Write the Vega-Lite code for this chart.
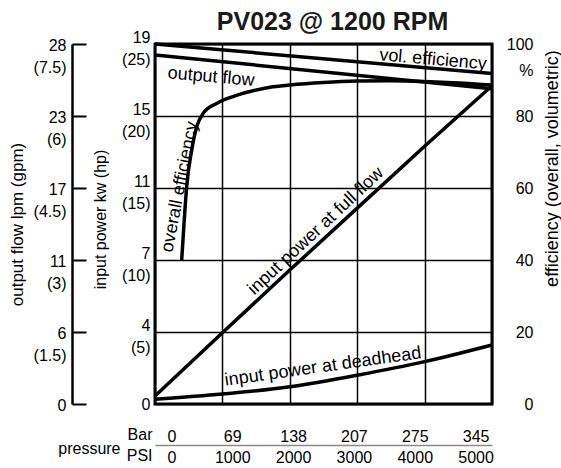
{
  "$schema": "https://vega.github.io/schema/vega-lite/v6.json",
  "width": 337,
  "height": 360,
  "autosize": {"type": "none"},
  "padding": {"left": 155, "top": 44, "right": 69, "bottom": 64},
  "background": "white",
  "title": {"text": "PV023  @  1200 RPM", "fontSize": 25, "fontWeight": "bold", "font": "Liberation Sans", "anchor": "middle", "dx": 9, "offset": -6, "color": "#1a1a1a"},
  "datasets": {
    "curves": [
      {"series": "vol", "psi": 0, "value": 100},
      {"series": "vol", "psi": 5000, "value": 91.8},
      {"series": "overall", "psi": 396, "value": 40.0},
      {"series": "overall", "psi": 430, "value": 50.0},
      {"series": "overall", "psi": 470, "value": 60.4},
      {"series": "overall", "psi": 545, "value": 70.6},
      {"series": "overall", "psi": 619, "value": 77.0},
      {"series": "overall", "psi": 717, "value": 80.8},
      {"series": "overall", "psi": 915, "value": 83.5},
      {"series": "overall", "psi": 1157, "value": 85.4},
      {"series": "overall", "psi": 1409, "value": 86.8},
      {"series": "overall", "psi": 1706, "value": 88.0},
      {"series": "overall", "psi": 2000, "value": 88.6},
      {"series": "overall", "psi": 2500, "value": 89.3},
      {"series": "overall", "psi": 3000, "value": 89.7},
      {"series": "overall", "psi": 3500, "value": 89.8},
      {"series": "overall", "psi": 4000, "value": 89.6},
      {"series": "overall", "psi": 4500, "value": 89.2},
      {"series": "overall", "psi": 5000, "value": 88.6},
      {"series": "flow", "psi": 0, "value": 7.27},
      {"series": "flow", "psi": 5000, "value": 6.57},
      {"series": "full", "psi": 0, "value": 0.55},
      {"series": "full", "psi": 1000, "value": 4.95},
      {"series": "full", "psi": 2000, "value": 9.3},
      {"series": "full", "psi": 3000, "value": 13.6},
      {"series": "full", "psi": 4000, "value": 17.9},
      {"series": "full", "psi": 5000, "value": 22.1},
      {"series": "deadhead", "psi": 0, "value": 0.33},
      {"series": "deadhead", "psi": 1000, "value": 0.69},
      {"series": "deadhead", "psi": 2000, "value": 1.2},
      {"series": "deadhead", "psi": 3000, "value": 2.0},
      {"series": "deadhead", "psi": 4000, "value": 2.94},
      {"series": "deadhead", "psi": 5000, "value": 4.1}
    ],
    "labels": [
      {"label": "vol. efficiency", "psi": 4125, "value": 95.6},
      {"label": "output flow", "psi": 831, "value": 6.81},
      {"label": "overall efficiency", "psi": 371, "value": 60.3},
      {"label": "input power at full flow", "psi": 2389, "value": 12.0},
      {"label": "input power at deadhead", "psi": 2493, "value": 2.57}
    ],
    "pressure": [
      {"psi": 0, "bar": 0},
      {"psi": 1000, "bar": 69},
      {"psi": 2000, "bar": 138},
      {"psi": 3000, "bar": 207},
      {"psi": 4000, "bar": 275},
      {"psi": 5000, "bar": 345}
    ]
  },
  "resolve": {"scale": {"x": "independent", "y": "independent"}},
  "layer": [
    {
      "data": {"name": "curves"},
      "transform": [{"filter": "datum.series == 'vol'"}],
      "mark": {"type": "line", "color": "black", "strokeWidth": 3.5},
      "encoding": {
        "x": {"field": "psi", "type": "quantitative", "scale": {"domain": [0, 5000], "nice": false},
          "axis": {"orient": "bottom", "values": [0, 1000, 2000, 3000, 4000, 5000], "grid": true, "gridColor": "black", "gridWidth": 1.5, "gridOpacity": 1, "labels": false, "ticks": false, "domain": false,
            "title": "pressure", "titleX": -35, "titleY": 44, "titleAlign": "right", "titleBaseline": "middle", "titleAnchor": null}},
        "y": {"field": "value", "type": "quantitative", "scale": {"domain": [0, 100], "nice": false},
          "axis": {"orient": "right", "values": [0, 20, 40, 60, 80, 100], "grid": true, "gridColor": "black", "gridWidth": 1.5, "gridOpacity": 1, "ticks": false, "domain": false,
            "labelAlign": "right", "labelPadding": 41, "labelLineHeight": 26,
            "labelBaseline": {"condition": {"test": "datum.value == 100", "value": "alphabetic"}, "value": "middle"},
            "labelOffset": {"condition": {"test": "datum.value == 100", "value": 5}, "value": 0},
            "labelExpr": "datum.value == 100 ? ['100', '%'] : datum.label",
            "title": "efficiency (overall, volumetric)", "titleFontSize": 18, "titleAngle": 270, "titleX": 60, "titleY": 124, "titleAlign": "center", "titleBaseline": "middle"}}
      }
    },
    {
      "data": {"name": "curves"},
      "transform": [{"filter": "datum.series == 'overall'"}],
      "mark": {"type": "line", "color": "black", "strokeWidth": 3.5, "interpolate": "monotone"},
      "encoding": {
        "x": {"field": "psi", "type": "quantitative", "scale": {"domain": [0, 5000], "nice": false}, "axis": null},
        "y": {"field": "value", "type": "quantitative", "scale": {"domain": [0, 100], "nice": false}, "axis": null}
      }
    },
    {
      "data": {"name": "curves"},
      "transform": [{"filter": "datum.series == 'flow'"}],
      "mark": {"type": "line", "color": "black", "strokeWidth": 3.5},
      "encoding": {
        "x": {"field": "psi", "type": "quantitative", "scale": {"domain": [0, 5000], "nice": false}, "axis": null},
        "y": {"field": "value", "type": "quantitative", "scale": {"domain": [0, 7.5], "nice": false},
          "axis": {"orient": "left", "offset": 83, "values": [0, 1.5, 3, 4.5, 6, 7.5], "grid": false, "domain": true, "domainColor": "black", "domainWidth": 2.5, "domainOpacity": 1,
            "ticks": true, "tickSize": -14, "tickColor": "black", "tickWidth": 2, "tickOpacity": 1, "labelPadding": 20,
            "labelBaseline": "middle", "labelOffset": 1,
            "labelExpr": "datum.value == 0 ? ['0', ''] : [format(datum.value * 3.785, '.0f'), '(' + datum.value + ')']",
            "title": "output flow lpm (gpm)", "titleFontSize": 17, "titleAngle": 270, "titleX": -55, "titleY": 180, "titleAlign": "center", "titleBaseline": "middle"}}
      }
    },
    {
      "data": {"name": "curves"},
      "transform": [{"filter": "datum.series == 'full'"}],
      "mark": {"type": "line", "color": "black", "strokeWidth": 3.5},
      "encoding": {
        "x": {"field": "psi", "type": "quantitative", "scale": {"domain": [0, 5000], "nice": false}, "axis": null},
        "y": {"field": "value", "type": "quantitative", "scale": {"domain": [0, 25], "nice": false},
          "axis": {"orient": "left", "values": [0, 5, 10, 15, 20, 25], "grid": false, "domain": false, "ticks": false, "labelPadding": 5,
            "labelBaseline": {"condition": {"test": "datum.value == 0", "value": "middle"}, "value": "alphabetic"},
            "labelOffset": {"condition": {"test": "datum.value == 0", "value": 0}, "value": -2},
            "labelExpr": "datum.value == 0 ? '0' : [format(datum.value * 0.7457, '.0f'), '(' + datum.value + ')']",
            "title": "input power kw (hp)", "titleFontSize": 16, "titleAngle": 270, "titleX": -55, "titleY": 175, "titleAlign": "center", "titleBaseline": "middle"}}
      }
    },
    {
      "data": {"name": "curves"},
      "transform": [{"filter": "datum.series == 'deadhead'"}],
      "mark": {"type": "line", "color": "black", "strokeWidth": 3.5, "interpolate": "monotone"},
      "encoding": {
        "x": {"field": "psi", "type": "quantitative", "scale": {"domain": [0, 5000], "nice": false}, "axis": null},
        "y": {"field": "value", "type": "quantitative", "scale": {"domain": [0, 25], "nice": false}, "axis": null}
      }
    },
    {
      "data": {"name": "labels"},
      "transform": [{"filter": "datum.label == 'vol. efficiency'"}],
      "mark": {"type": "text", "fontSize": 18, "angle": 5, "align": "center", "baseline": "middle", "color": "black"},
      "encoding": {
        "x": {"field": "psi", "type": "quantitative", "scale": {"domain": [0, 5000], "nice": false}, "axis": null},
        "y": {"field": "value", "type": "quantitative", "scale": {"domain": [0, 100], "nice": false}, "axis": null},
        "text": {"field": "label"}
      }
    },
    {
      "data": {"name": "labels"},
      "transform": [{"filter": "datum.label == 'overall efficiency'"}],
      "mark": {"type": "text", "fontSize": 18, "angle": 281, "align": "center", "baseline": "middle", "color": "black"},
      "encoding": {
        "x": {"field": "psi", "type": "quantitative", "scale": {"domain": [0, 5000], "nice": false}, "axis": null},
        "y": {"field": "value", "type": "quantitative", "scale": {"domain": [0, 100], "nice": false}, "axis": null},
        "text": {"field": "label"}
      }
    },
    {
      "data": {"name": "labels"},
      "transform": [{"filter": "datum.label == 'output flow'"}],
      "mark": {"type": "text", "fontSize": 18, "angle": 5, "align": "center", "baseline": "middle", "color": "black"},
      "encoding": {
        "x": {"field": "psi", "type": "quantitative", "scale": {"domain": [0, 5000], "nice": false}, "axis": null},
        "y": {"field": "value", "type": "quantitative", "scale": {"domain": [0, 7.5], "nice": false}, "axis": null},
        "text": {"field": "label"}
      }
    },
    {
      "data": {"name": "labels"},
      "transform": [{"filter": "datum.label == 'input power at full flow'"}],
      "mark": {"type": "text", "fontSize": 18, "angle": 317, "align": "center", "baseline": "middle", "color": "black"},
      "encoding": {
        "x": {"field": "psi", "type": "quantitative", "scale": {"domain": [0, 5000], "nice": false}, "axis": null},
        "y": {"field": "value", "type": "quantitative", "scale": {"domain": [0, 25], "nice": false}, "axis": null},
        "text": {"field": "label"}
      }
    },
    {
      "data": {"name": "labels"},
      "transform": [{"filter": "datum.label == 'input power at deadhead'"}],
      "mark": {"type": "text", "fontSize": 18, "angle": 352, "align": "center", "baseline": "middle", "color": "black"},
      "encoding": {
        "x": {"field": "psi", "type": "quantitative", "scale": {"domain": [0, 5000], "nice": false}, "axis": null},
        "y": {"field": "value", "type": "quantitative", "scale": {"domain": [0, 25], "nice": false}, "axis": null},
        "text": {"field": "label"}
      }
    },
    {
      "data": {"name": "pressure"},
      "mark": {"type": "point", "opacity": 0},
      "encoding": {
        "x": {"field": "bar", "type": "ordinal", "scale": {"type": "point", "padding": 0.27},
          "axis": {"orient": "bottom", "offset": 0, "domain": false, "ticks": false, "labelAngle": 0, "labelPadding": 24, "labelBaseline": "top",
            "title": "Bar", "titleX": -3, "titleY": 30, "titleAlign": "right", "titleBaseline": "middle", "titleAnchor": null}}
      }
    },
    {
      "data": {"name": "pressure"},
      "mark": {"type": "point", "opacity": 0},
      "encoding": {
        "x": {"field": "psi", "type": "ordinal", "scale": {"type": "point", "padding": 0.27},
          "axis": {"orient": "bottom", "offset": 41, "domain": true, "domainColor": "#8a8a8a", "domainWidth": 1.5, "ticks": false, "labelAngle": 0, "labelPadding": 4, "labelBaseline": "top",
            "title": "PSI", "titleX": -3, "titleY": 10, "titleAlign": "right", "titleBaseline": "middle", "titleAnchor": null}}
      }
    }
  ],
  "config": {
    "font": "Liberation Sans",
    "view": {"stroke": "black", "strokeWidth": 3},
    "axis": {"labelFontSize": 16, "titleFontSize": 16, "titleFontWeight": "normal", "labelColor": "black", "titleColor": "black", "labelLineHeight": 22, "labelFont": "Liberation Sans", "titleFont": "Liberation Sans"}
  }
}
